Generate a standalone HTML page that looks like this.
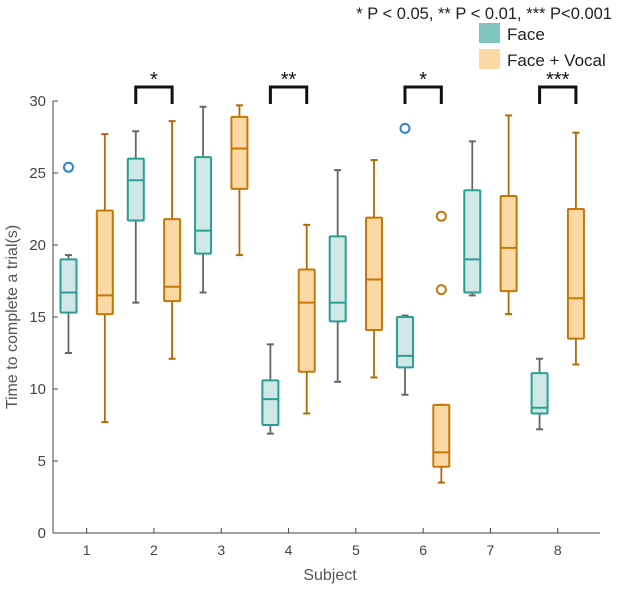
<!DOCTYPE html>
<html><head><meta charset="utf-8"><style>
body{margin:0;background:#fff;}
svg{font-family:"Liberation Sans",sans-serif;}
</style></head><body>
<svg id="c" width="617" height="587" xmlns="http://www.w3.org/2000/svg">
<text x="612" y="19" text-anchor="end" font-size="16.5" fill="#222">*  P &lt; 0.05, ** P &lt; 0.01, *** P&lt;0.001</text>
<rect x="479" y="23" width="21" height="20" fill="#7fc4be"/>
<text x="507" y="40" font-size="17" fill="#222">Face</text>
<rect x="479" y="49" width="21" height="20" fill="#fcd9a4"/>
<text x="507" y="66" font-size="17" fill="#222">Face + Vocal</text>
<text x="330" y="580" text-anchor="middle" font-size="16" fill="#555">Subject</text>
<text transform="translate(17,317) rotate(-90)" text-anchor="middle" font-size="16" fill="#555">Time to complete a trial(s)</text>
<g id="plot"></g>
</svg>
<script>
const subjects=[1,2,3,4,5,6,7,8];
// [low whisker, q1, median, q3, high whisker]
const faceStats=[[12.5,15.3,16.7,19.0,19.3],[16.0,21.7,24.5,26.0,27.9],[16.7,19.4,21.0,26.1,29.6],[6.9,7.5,9.3,10.6,13.1],[10.5,14.7,16.0,20.6,25.2],[9.6,11.5,12.3,15.0,15.1],[16.5,16.7,19.0,23.8,27.2],[7.2,8.3,8.7,11.1,12.1]];
const vocalStats=[[7.7,15.2,16.5,22.4,27.7],[12.1,16.1,17.1,21.8,28.6],[19.3,23.9,26.7,28.9,29.7],[8.3,11.2,16.0,18.3,21.4],[10.8,14.1,17.6,21.9,25.9],[3.5,4.6,5.6,8.9,8.9],[15.2,16.8,19.8,23.4,29.0],[11.7,13.5,16.3,22.5,27.8]];
const faceOutliers=[[1,25.4],[6,28.1]];
const vocalOutliers=[[6,22.0],[6,16.9]];
const sigSubjects=[2,4,6,8];
const sigLabels=["*","**","*","***"];
const yTicks=[0,5,10,15,20,25,30];

const NS="http://www.w3.org/2000/svg";
const g=document.getElementById('plot');
const X=s=>53+(s-0.5)*67.3;
const Y=v=>533-v*14.4;
function el(t,a,name,inter){const e=document.createElementNS(NS,t);for(const k in a)e.setAttribute(k,a[k]);


g.appendChild(e);return e;}
el('line',{x1:53,y1:Y(0),x2:600,y2:Y(0),stroke:'#444','stroke-width':1},'x-axis','false');
el('line',{x1:53,y1:Y(0),x2:53,y2:Y(30),stroke:'#444','stroke-width':1},'y-axis','false');
yTicks.forEach(t=>{el('line',{x1:53,y1:Y(t),x2:58,y2:Y(t),stroke:'#444'},'y-tick','false');
const tx=el('text',{x:46,y:Y(t)+5,'text-anchor':'end','font-size':15,fill:'#444'},'y-tick-label','false');tx.textContent=t;});
subjects.forEach(s=>{el('line',{x1:X(s),y1:Y(0),x2:X(s),y2:Y(0)-5,stroke:'#444'},'x-tick','false');
const tx=el('text',{x:X(s),y:Y(0)+22,'text-anchor':'middle','font-size':14,fill:'#444'},'x-tick-label','false');tx.textContent=s;});
function box(cx,st,stroke,fill,wh,name){const w=16,c=7;
el('line',{x1:cx,y1:Y(st[0]),x2:cx,y2:Y(st[1]),stroke:wh,'stroke-width':1.8},name+'-whisker-low','false');
el('line',{x1:cx,y1:Y(st[3]),x2:cx,y2:Y(st[4]),stroke:wh,'stroke-width':1.8},name+'-whisker-high','false');
el('line',{x1:cx-c/2,y1:Y(st[0]),x2:cx+c/2,y2:Y(st[0]),stroke:wh,'stroke-width':2},name+'-cap-low','false');
el('line',{x1:cx-c/2,y1:Y(st[4]),x2:cx+c/2,y2:Y(st[4]),stroke:wh,'stroke-width':2},name+'-cap-high','false');
el('rect',{x:cx-w/2,y:Y(st[3]),width:w,height:Y(st[1])-Y(st[3]),fill:fill,stroke:stroke,'stroke-width':2,rx:1},name+'-box','true');
el('line',{x1:cx-w/2,y1:Y(st[2]),x2:cx+w/2,y2:Y(st[2]),stroke:stroke,'stroke-width':2},name+'-median','false');}
subjects.forEach((s,i)=>{box(X(s-0.27),faceStats[i],'#2a9d95','#cfe8e5','#666','face-'+s);
box(X(s+0.27),vocalStats[i],'#c47808','#fcd9a4','#b06a05','vocal-'+s);});
faceOutliers.forEach(o=>el('circle',{cx:X(o[0]-0.27),cy:Y(o[1]),r:4.5,fill:'none',stroke:'#2b82d4','stroke-width':2},'face-outlier','true'));
vocalOutliers.forEach(o=>el('circle',{cx:X(o[0]+0.27),cy:Y(o[1]),r:4.5,fill:'none',stroke:'#c47808','stroke-width':2},'vocal-outlier','true'));
sigSubjects.forEach((s,i)=>{const a=X(s-0.27),b=X(s+0.27);
el('polyline',{points:`${a},104 ${a},87 ${b},87 ${b},104`,fill:'none',stroke:'#111','stroke-width':3},'significance-bracket','false');
const t=el('text',{x:(a+b)/2,y:86,'text-anchor':'middle','font-size':20,fill:'#111'},'significance-stars','false');t.textContent=sigLabels[i];});
</script>
</body></html>
